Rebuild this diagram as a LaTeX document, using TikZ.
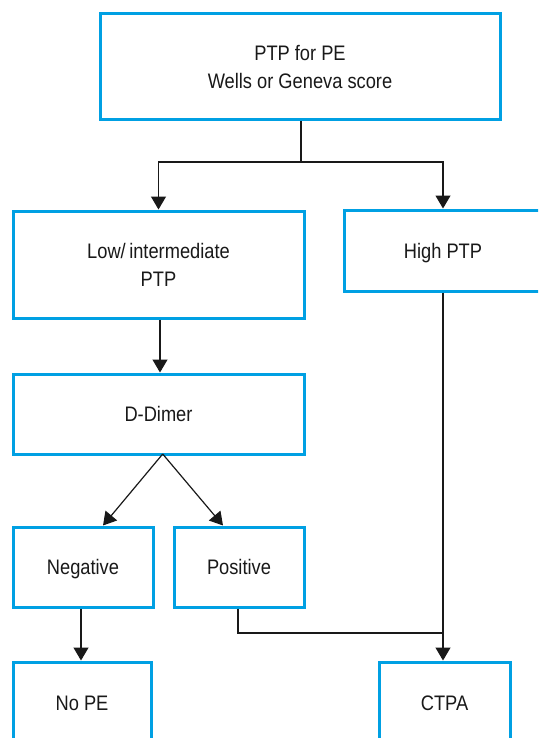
\documentclass[tikz,border=0pt]{standalone}
\usepackage{fontspec}
\setmainfont{Liberation Sans}[FakeStretch=0.87]
\usetikzlibrary{arrows.meta,calc}
\definecolor{boxblue}{RGB}{0,160,227}
\definecolor{ink}{RGB}{25,25,25}
\begin{document}
\begin{tikzpicture}[x=1pt,y=-1pt,
  box/.style={draw=boxblue, line width=3pt, fill=white, align=center, inner sep=0pt,
    font=\fontsize{21}{28}\selectfont, text=ink},
  onebox/.style={box, text height=15pt, text depth=0pt},
  link/.style={draw=ink, line width=1.2pt},
  arr/.style={link, -{Triangle[length=13pt,width=15pt]}}]
\useasboundingbox (0,0) rectangle (538,738);
\clip (0,0) rectangle (538,738);
\fill[white] (0,0) rectangle (538,738);
\node[box, minimum width=400pt, minimum height=106pt] (top) at (300,67) {PTP for PE\\Wells or Geneva score};
\node[box, minimum width=291pt, minimum height=107pt] (low) at (158.5,264.5) {Low/\,intermediate\\PTP};
\node[onebox, minimum width=198pt, minimum height=81pt] (high) at (443,250.5) {High PTP};
\node[onebox, minimum width=291pt, minimum height=80pt] (dd) at (158.5,414) {D-Dimer};
\node[onebox, minimum width=140pt, minimum height=80pt] (neg) at (83,567) {Negative};
\node[onebox, minimum width=130pt, minimum height=80pt] (pos) at (239,567) {Positive};
\node[onebox, minimum width=138pt, minimum height=82pt] (nope) at (82,703) {No PE};
\node[onebox, minimum width=131pt, minimum height=82pt] (ctpa) at (444.5,703) {CTPA};
\coordinate (split) at (301,162);
\coordinate (apex) at (162.7,454);
\coordinate (join) at (443,633);
\draw[link] (top.south -| split) -- (split);
\draw[arr] (split) -| (low.north);
\draw[arr] (split) -| (high.north);
\draw[arr] (low.south -| 160,0) -- (dd.north -| 160,0);
\draw[arr] (apex) -- ($(neg.north)+(20,0)$);
\draw[arr] (apex) -- ($(pos.north)+(-16,0)$);
\draw[arr] (neg.south -| 81,0) -- (nope.north -| 81,0);
\draw[link] (pos.south -| 238,0) |- (join);
\draw[arr] (high.south) -- (high.south |- ctpa.north);
\end{tikzpicture}
\end{document}
